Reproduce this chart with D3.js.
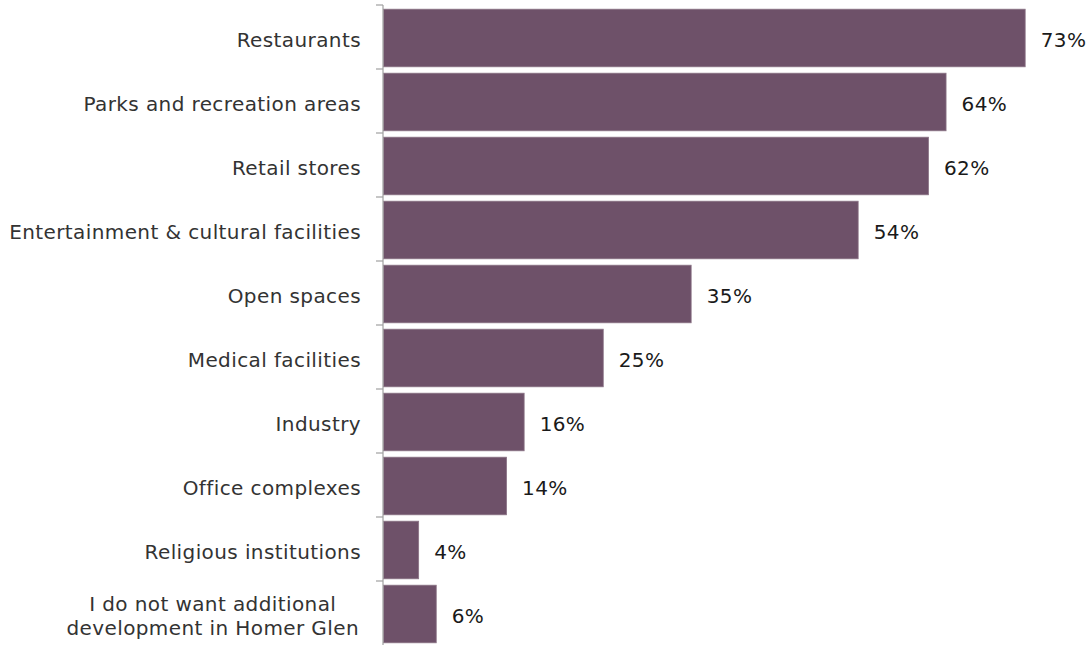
<!DOCTYPE html>
<html>
<head>
<meta charset="utf-8">
<script src="https://cdn.jsdelivr.net/npm/d3@7"></script>
<style>
  html, body { margin: 0; padding: 0; background: #fff; }
  svg { display: block; }
</style>
</head>
<body>
<svg id="chart" width="1090" height="645"></svg>
<script>
// Share of respondents wanting each type of development
const categories = [
  "Restaurants",
  "Parks and recreation areas",
  "Retail stores",
  "Entertainment & cultural facilities",
  "Open spaces",
  "Medical facilities",
  "Industry",
  "Office complexes",
  "Religious institutions",
  "I do not want additional\ndevelopment in Homer Glen"
];
const values = [73, 64, 62, 54, 35, 25, 16, 14, 4, 6];

const axisX = 383;
const font = "'DejaVu Sans', Verdana, sans-serif";
const fontSize = 20;
const spacing = 0.4;

const svg = d3.select("#chart");

const x = d3.scaleLinear().domain([0, 100]).range([axisX, axisX + 879]);
const y = d3.scaleBand()
  .domain(categories)
  .range([5, 645])
  .paddingInner(0.1)
  .paddingOuter(0.05);

const gap = y.step() - y.bandwidth();

// bars
svg.append("g").selectAll("rect")
  .data(categories)
  .join("rect")
  .attr("x", x(0) + 0.5)
  .attr("y", d => y(d) + 1)
  .attr("width", (d, i) => x(values[i]) - x(0))
  .attr("height", y.bandwidth())
  .attr("fill", "#6e5169")
  .attr("stroke", "#8b7386")
  .attr("stroke-width", 0.8);

// vertical axis with ticks at category boundaries
const axisG = svg.append("g").attr("stroke", "#a0a0a0").attr("stroke-width", 1.2);
axisG.append("line")
  .attr("x1", axisX).attr("x2", axisX)
  .attr("y1", y.range()[0]).attr("y2", y.range()[1] + 5);
const boundaries = categories.map(d => y(d) - gap / 2);
axisG.selectAll("line.tick")
  .data(boundaries)
  .join("line")
  .attr("class", "tick")
  .attr("x1", axisX - 7).attr("x2", axisX)
  .attr("y1", d => d).attr("y2", d => d);

// category labels
const labels = svg.append("g")
  .attr("font-family", font)
  .attr("font-size", fontSize)
  .attr("letter-spacing", spacing)
  .attr("fill", "#333333");

categories.forEach(c => {
  const lines = c.split("\n");
  const cy = y(c) + y.bandwidth() / 2 + 3;
  const lh = 24;
  if (lines.length === 1) {
    labels.append("text")
      .attr("x", 361)
      .attr("y", cy)
      .attr("dy", "0.35em")
      .attr("text-anchor", "end")
      .text(c);
  } else {
    // two-line label: lines centred on each other, block right-aligned
    const probe = labels.append("text");
    const wmax = d3.max(lines, l => { probe.text(l); return probe.node().getComputedTextLength(); });
    probe.remove();
    const cx = 359 - wmax / 2;
    const t = labels.append("text").attr("text-anchor", "middle");
    lines.forEach((l, k) => {
      t.append("tspan")
        .attr("x", cx)
        .attr("y", cy + (k - (lines.length - 1) / 2) * lh)
        .attr("dy", "0.35em")
        .text(l);
    });
  }
});

// value labels
svg.append("g")
  .attr("font-family", font)
  .attr("font-size", fontSize)
  .attr("letter-spacing", spacing)
  .attr("fill", "#1a1a1a")
  .selectAll("text")
  .data(categories)
  .join("text")
  .attr("x", (d, i) => x(values[i]) + 16)
  .attr("y", d => y(d) + y.bandwidth() / 2 + 3)
  .attr("dy", "0.35em")
  .text((d, i) => values[i] + "%");
</script>
</body>
</html>
